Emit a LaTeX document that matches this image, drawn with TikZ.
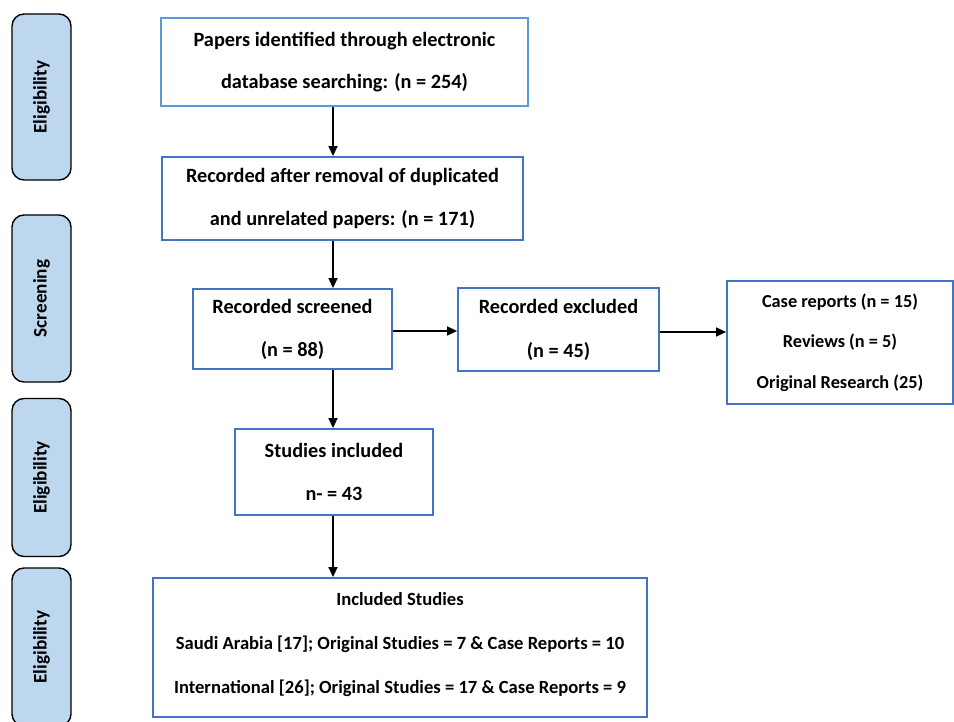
\documentclass[tikz,border=0pt]{standalone}
\usepackage{fontspec}
\setmainfont{Carlito}
\usetikzlibrary{arrows.meta}
\definecolor{tabfill}{HTML}{BDD7EE}
\definecolor{boxblue}{HTML}{4472C4}
\definecolor{boxlight}{HTML}{5B9BD5}
\begin{document}
\begin{tikzpicture}[x=1pt,y=-1pt,
  tab/.style={draw=black, line width=1.4pt, fill=tabfill, rounded corners=12pt, rotate=90,
    minimum height=59pt, inner sep=0pt, font=\fontsize{19.2}{22}\selectfont\bfseries},
  flowbox/.style={draw=boxblue, line width=1.8pt, fill=white, inner sep=0pt, align=center},
  arr/.style={draw=black, line width=1.4pt, -{Triangle[length=10pt,width=9pt]}}]
\useasboundingbox (0,0) rectangle (954,722);
\clip (0,0) rectangle (954,722);
\fill[white] (0,0) rectangle (954,722);
% side tabs
\node[tab, minimum width=166pt] (t1) at (41.5,97) {Eligibility};
\node[tab, minimum width=167pt] (t2) at (41.5,298.5) {Screening};
\node[tab, minimum width=158pt] (t3) at (41.5,477.5) {Eligibility};
\node[tab, minimum width=158pt] (t4) at (41.5,647) {Eligibility};
% flow boxes
\node[flowbox, draw=boxlight, minimum width=367pt, minimum height=88pt,
  font=\fontsize{20.3}{42}\selectfont\bfseries] (b1) at (344.5,62)
  {Papers identified through electronic\\database searching: (n = 254)};
\node[flowbox, minimum width=361pt, minimum height=83pt,
  font=\fontsize{20.3}{43}\selectfont\bfseries] (b2) at (342.5,198.5)
  {Recorded after removal of duplicated\\and unrelated papers: (n = 171)};
\node[flowbox, minimum width=199pt, minimum height=80pt,
  font=\fontsize{20.3}{43}\selectfont\bfseries] (b3) at (292.5,329)
  {Recorded screened\\(n = 88)};
\node[flowbox, minimum width=201pt, minimum height=83pt,
  font=\fontsize{20.3}{44}\selectfont\bfseries] (b4) at (558.5,329.5)
  {Recorded excluded\\(n = 45)};
\node[flowbox, minimum width=226pt, minimum height=123pt,
  font=\fontsize{18.3}{40.5}\selectfont\bfseries] (b6) at (840,342.5)
  {Case reports (n = 15)\\Reviews (n = 5)\\Original Research (25)};
\node[flowbox, minimum width=198pt, minimum height=86pt,
  font=\fontsize{20.3}{43}\selectfont\bfseries] (b5) at (334,472)
  {Studies included\\n- = 43};
\node[flowbox, minimum width=494pt, minimum height=139pt,
  font=\fontsize{18.6}{44}\selectfont\bfseries] (b7) at (400,647.5)
  {Included Studies\\Saudi Arabia [17]; Original Studies = 7 \& Case Reports = 10\\International [26]; Original Studies = 17 \& Case Reports = 9\rule[-9pt]{0pt}{0pt}};
% connectors
\coordinate (spine) at (333,0);
\draw[arr] (spine |- b1.south) -- (spine |- b2.north);
\draw[arr] (spine |- b2.south) -- (spine |- b3.north);
\draw[arr] (spine |- b3.south) -- (spine |- b5.north);
\draw[arr] (spine |- b5.south) -- (spine |- b7.north);
\draw[arr] ([yshift=-2pt]b3.east) -- ([yshift=-2pt]b4.west |- b3.east);
\draw[arr] ([yshift=-2.5pt]b4.east) -- ([yshift=-2.5pt]b6.west |- b4.east);
\end{tikzpicture}
\end{document}
